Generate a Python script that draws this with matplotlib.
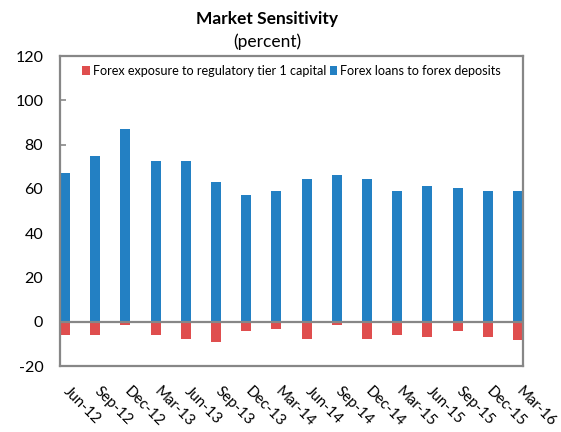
import matplotlib
matplotlib.use("Agg")
import matplotlib.pyplot as plt
import matplotlib.transforms as mtransforms
import numpy as np

categories = ["Jun-12", "Sep-12", "Dec-12", "Mar-13", "Jun-13", "Sep-13", "Dec-13", "Mar-14",
              "Jun-14", "Sep-14", "Dec-14", "Mar-15", "Jun-15", "Sep-15", "Dec-15", "Mar-16"]
forex_exposure = [-5.8, -5.8, -1.5, -5.8, -7.6, -9.1, -4.3, -3.5,
                  -7.6, -1.5, -7.6, -5.8, -6.7, -4.3, -6.7, -8.2]
forex_loans = [67.1, 74.9, 87.0, 72.5, 72.5, 63.0, 57.2, 59.0,
               64.5, 66.1, 64.5, 58.9, 61.2, 60.4, 58.9, 58.9]
yticks = [-20, 0, 20, 40, 60, 80, 100, 120]

RED = "#DF4E4E"
BLUE = "#2380C3"
GRAY = "#878787"

plt.rcParams["font.family"] = ["Lato", "DejaVu Sans"]

fig = plt.figure(figsize=(5.61, 4.32), dpi=100)
ax = fig.add_axes([60 / 561, 1 - 366 / 432, 463 / 561, 310 / 432])

n = len(categories)
x = np.arange(n)
w = 0.331
ax.bar(x, forex_exposure, width=w, color=RED, label="Forex exposure to regulatory tier 1 capital", zorder=2)
ax.bar(x, forex_loans, width=w, color=BLUE, label="Forex loans to forex deposits", zorder=2)

ax.set_xlim(-w / 2, n - 1 + w / 2)
ax.set_ylim(-20, 120)
ax.axhline(0, color=GRAY, lw=1.6, zorder=3)

ax.set_xticks(x)
ax.set_xticklabels(categories, rotation=-45, ha="left", va="top", fontsize=10.8)
ax.tick_params(axis="x", length=0, pad=13)
shift = mtransforms.ScaledTranslation(-4 / 100, 0, fig.dpi_scale_trans)
for lab in ax.get_xticklabels():
    lab.set_transform(lab.get_transform() + shift)

ax.set_yticks(yticks)
ax.set_yticklabels([str(v) for v in yticks], fontsize=11.5)
ax.tick_params(axis="y", direction="in", length=4, width=1.2, color=GRAY, pad=12)

for s in ax.spines.values():
    s.set_color(GRAY)
    s.set_linewidth(1.6)

ax.legend(loc="upper center", bbox_to_anchor=(0.5, 1.0), ncol=2, frameon=False,
          fontsize=9.1, handlelength=0.6, handleheight=0.8, handletextpad=0.2,
          columnspacing=0.3, borderaxespad=0.3)

fig.text(267 / 561, 1 - 19 / 432, "Market Sensitivity", ha="center", va="center",
         fontsize=12.5, fontweight="bold")
fig.text(267 / 561, 1 - 42 / 432, "(percent)", ha="center", va="center", fontsize=12.5)

fig.savefig("out.png", dpi=100)
